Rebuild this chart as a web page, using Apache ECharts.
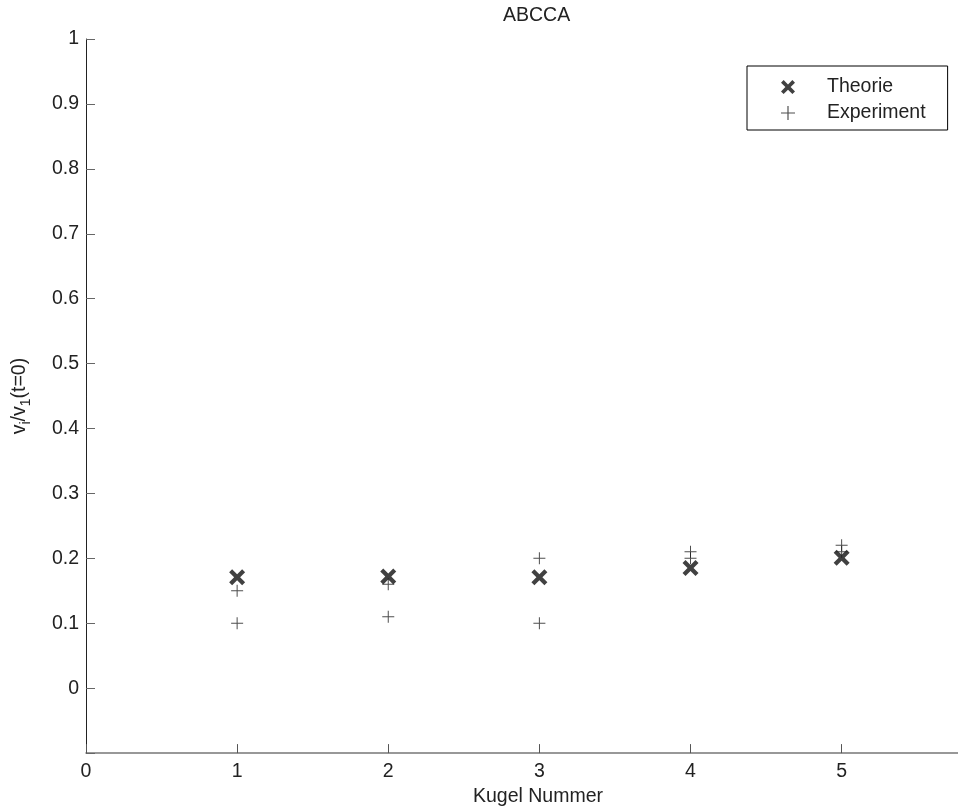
<!DOCTYPE html>
<html>
<head>
<meta charset="utf-8">
<title>ABCCA</title>
<script src="https://cdn.jsdelivr.net/npm/echarts@6/dist/echarts.min.js"></script>
<style>
  html, body { margin: 0; padding: 0; background: #fff; }
  #main { width: 958px; height: 812px; }
</style>
</head>
<body>
<div id="main"></div>
<script>
// Werte
var kugel = [1, 2, 3, 4, 5];
var theorie = [0.171, 0.172, 0.171, 0.185, 0.201];
// zwei Messungen je Kugel
var experiment1 = [0.15, 0.16, 0.20, 0.21, 0.22];
var experiment2 = [0.10, 0.11, 0.10, 0.20, 0.21];
var yTicks = [0, 0.1, 0.2, 0.3, 0.4, 0.5, 0.6, 0.7, 0.8, 0.9, 1];

var font = '"Liberation Sans", Arial, Helvetica, sans-serif';
var fs = 19.5;
// dickes X und duennes Plus
var crossPath = 'path://M3,0 L8,5 L13,0 L16,3 L11,8 L16,13 L13,16 L8,11 L3,16 L0,13 L5,8 L0,3 Z';
var plusPath = 'path://M5.5,0 L6.5,0 L6.5,5.5 L12,5.5 L12,6.5 L6.5,6.5 L6.5,12 L5.5,12 L5.5,6.5 L0,6.5 L0,5.5 L5.5,5.5 Z';

var theoData = kugel.map(function (k, i) { return [k, theorie[i]]; });
var expData = [];
kugel.forEach(function (k, i) {
  expData.push([k, experiment1[i]]);
  expData.push([k, experiment2[i]]);
});

var chart = echarts.init(document.getElementById('main'));
var option = {
  backgroundColor: '#fff',
  animation: false,
  textStyle: { fontFamily: font, color: '#222' },
  title: {
    text: 'ABCCA',
    left: 498,
    top: 1,
    textStyle: { fontFamily: font, fontSize: fs, fontWeight: 'normal', color: '#222' }
  },
  legend: {
    orient: 'vertical',
    left: 747,
    top: 66,
    padding: [11, 22, 7, 34],
    itemWidth: 14,
    itemHeight: 14,
    itemGap: 6,
    borderColor: '#000',
    borderWidth: 1,
    textStyle: { fontFamily: font, fontSize: fs, color: '#222', padding: [0, 0, 0, 27] },
    data: [
      { name: 'Theorie', icon: crossPath },
      { name: 'Experiment', icon: plusPath }
    ]
  },
  grid: { left: 86, right: 0, top: 39, bottom: 57.5 },
  xAxis: {
    type: 'value',
    min: 0,
    max: 5.77,
    interval: 1,
    name: 'Kugel Nummer',
    nameLocation: 'middle',
    nameGap: 33,
    nameTextStyle: { fontFamily: font, fontSize: fs, color: '#222', padding: [0, 0, 0, 32] },
    splitLine: { show: false },
    axisLine: { onZero: false, lineStyle: { color: '#777', width: 1.5 } },
    axisTick: { inside: true, length: 9, lineStyle: { color: '#555' } },
    axisLabel: {
      margin: 9,
      fontSize: fs,
      color: '#222',
      showMaxLabel: false,
      formatter: function (v) { return Math.abs(v - Math.round(v)) < 1e-6 ? String(Math.round(v)) : ''; }
    }
  },
  yAxis: {
    type: 'value',
    min: -0.1,
    max: 1,
    interval: 0.1,
    name: '{m|v}{s|i}{m|/v}{s|1}{m|(t=0)}',
    nameLocation: 'middle',
    nameRotate: 90,
    nameGap: 53,
    nameTextStyle: {
      fontFamily: font,
      color: '#222',
      rich: {
        m: { fontFamily: font, fontSize: fs, lineHeight: 27, verticalAlign: 'middle', color: '#222' },
        s: { fontFamily: font, fontSize: 14, lineHeight: 14, verticalAlign: 'bottom', color: '#222' }
      }
    },
    splitLine: { show: false },
    axisLine: { onZero: false, lineStyle: { color: '#222', width: 1 } },
    axisTick: { inside: true, length: 9, lineStyle: { color: '#666' } },
    axisLabel: {
      margin: 7,
      fontSize: fs,
      color: '#222',
      formatter: function (v) {
        var r = Math.round(v * 10) / 10;
        for (var i = 0; i < yTicks.length; i++) {
          if (Math.abs(yTicks[i] - r) < 1e-6 && Math.abs(v - r) < 1e-6) return String(yTicks[i]);
        }
        return '';
      }
    }
  },
  series: [
    {
      name: 'Theorie',
      type: 'scatter',
      symbol: crossPath,
      symbolSize: 16,
      itemStyle: { color: '#111' },
      data: theoData,
      z: 2
    },
    {
      name: 'Experiment',
      type: 'scatter',
      symbol: plusPath,
      symbolSize: 12,
      itemStyle: { color: '#222' },
      data: expData,
      z: 3
    }
  ]
};
chart.setOption(option);
</script>
</body>
</html>
